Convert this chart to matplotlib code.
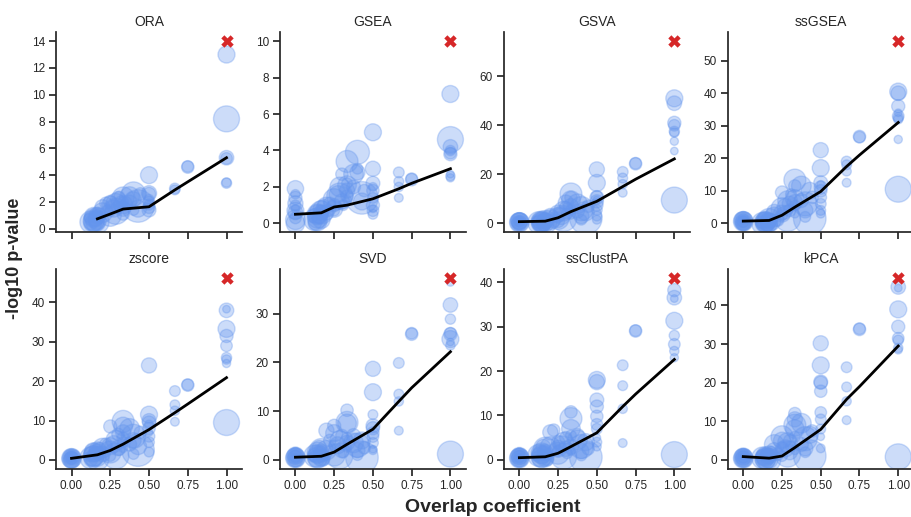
import numpy as np
import matplotlib
matplotlib.use('Agg')
import matplotlib.pyplot as plt

plt.rcParams['font.family'] = ['Liberation Sans', 'DejaVu Sans']
plt.rcParams['text.color'] = '.15'
plt.rcParams['axes.edgecolor'] = '.15'
plt.rcParams['xtick.color'] = '.15'
plt.rcParams['ytick.color'] = '.15'

nan = np.nan

# overlap coefficient of each gene set (shared by all methods)
overlap = ([0.0] * 11
           + [0.125, 0.143, 0.143, 0.167, 0.167, 0.154, 0.125, 0.182, 0.167, 0.111,
              0.143, 0.143, 0.167, 0.167]
           + [0.2, 0.2, 0.222, 0.25, 0.25, 0.25, 0.25]
           + [0.273, 0.286, 0.286, 0.3, 0.3, 0.308, 0.333, 0.333, 0.333, 0.333, 0.333, 0.333]
           + [0.375, 0.375, 0.4, 0.4, 0.429, 0.429, 0.444, 0.4]
           + [0.5] * 10
           + [0.667] * 4
           + [0.75] * 2
           + [1.0] * 9)

# bubble size ~ gene set size
set_size = ([180, 140, 110, 90, 70, 55, 45, 35, 200, 150, 120]
            + [250, 220, 180, 280, 140, 110, 90, 70, 55, 45, 220, 180, 160, 120]
            + [200, 120, 80, 250, 150, 90, 60]
            + [150, 350, 200, 120, 80, 60, 250, 180, 120, 80, 60, 40]
            + [200, 100, 300, 120, 550, 150, 80, 60]
            + [150, 120, 100, 90, 80, 70, 60, 50, 40, 30]
            + [60, 50, 45, 40]
            + [80, 70]
            + [350, 150, 110, 90, 70, 55, 45, 35, 30])

y_ora = ([nan] * 11
         + [0.5, 0.6, 0.9, 0.5, 1.0, 0.7, 0.4, 1.1, 1.2, 0.8, 0.5, 0.8, 0.6, 0.4]
         + [1.2, 1.6, 1.9, 1.0, 1.8, 2.0, 1.3]
         + [1.5, 1.3, 1.9, 2.2, 1.6, 2.4, 2.3, 1.8, 1.5, 1.1, 2.0, 1.7]
         + [2.4, 2.0, 2.6, 2.2, 1.7, 1.5, 2.6, 1.4]
         + [4.0, 2.65, 1.4, 2.6, 1.6, 2.0, 1.8, 2.2, nan, nan]
         + [3.0, 2.9, nan, nan]
         + [4.6, 4.65]
         + [8.2, 13.0, 5.3, nan, 5.25, 3.4, 3.45, nan, nan])

y_gsea = ([0.0, 1.9, 0.6, 1.4, 0.3, 1.0, 1.6, 0.8, 0.2, 0.7, 1.1]
          + [0.2, 0.5, 0.1, 0.6, 0.8, 0.4, 0.0, 1.0, 0.7, 0.3, 0.3, 0.5, 0.2, 0.6]
          + [0.9, 0.6, 1.1, 1.3, 0.8, 1.0, 0.7]
          + [1.6, 1.5, 2.0, 1.2, 2.7, 1.0, 3.4, 2.1, 1.8, 1.5, 2.2, 1.3]
          + [2.7, 2.0, 3.9, 2.8, 1.4, 1.2, 1.8, 3.0]
          + [5.0, 3.0, 2.2, 1.0, 1.8, 0.7, 1.4, 0.5, 2.0, 0.8]
          + [2.8, 2.3, 2.0, 1.4]
          + [2.4, 2.45]
          + [4.6, 7.1, 4.2, 3.8, 3.85, 4.0, 2.6, 2.5, 2.7])

y_gsva = ([0.5, 1.0, 0.2, 1.5, 0.0, 0.8, 0.3, 1.2, 0.4, 0.9, 0.1]
          + [0.3, 0.8, 0.1, 0.5, 1.2, 0.0, 0.6, 1.5, 0.2, 0.9, 0.4, 0.7, 0.2, 1.0]
          + [1.5, 3.0, 0.8, 2.0, 4.0, 1.0, 2.5]
          + [3.0, 2.0, 5.0, 8.5, 6.5, 4.0, 12.0, 9.5, 7.0, 10.5, 5.5, 3.5]
          + [8.0, 5.0, 6.0, 3.0, 2.2, 4.5, 7.0, 1.5]
          + [16.5, 22.0, 10.5, 9.0, 7.5, 11.0, 5.5, 3.0, 1.5, 9.5]
          + [21.0, 18.5, 16.0, 12.5]
          + [24.3, 24.5]
          + [9.5, 51.0, 49.0, 41.0, 40.0, 37.5, 37.0, 33.5, 29.5])

y_ssgsea = ([0.8, 0.3, 1.2, 0.0, 0.5, 1.5, 0.2, 1.0, 0.6, 1.0, 0.1]
            + [0.0, 0.5, 0.2, 1.0, 0.0, 0.8, 0.3, 1.2, 0.6, 0.1, 0.3, 0.6, 0.1, 0.9]
            + [2.0, 3.5, 1.0, 4.5, 3.0, 9.5, 2.5]
            + [5.0, 1.5, 7.0, 6.0, 4.0, 9.0, 13.3, 7.5, 6.5, 11.5, 5.5, 3.0]
            + [11.5, 7.0, 6.0, 4.0, 1.5, 10.0, 8.0, 2.0]
            + [17.0, 22.5, 12.5, 11.0, 10.0, 8.0, 6.0, 4.0, 3.0, 12.0]
            + [19.0, 18.0, 16.0, 12.5]
            + [26.7, 26.5]
            + [10.5, 40.5, 40.0, 36.0, 33.0, 32.5, 32.0, 25.8, 34.0])

y_zscore = ([0.3, 0.0, 0.8, 0.5, 1.0, 0.2, 0.6, 1.2, 0.4, 0.7, 0.1]
            + [0.5, 1.0, 2.0, 0.3, 2.5, 1.5, 0.0, 3.0, 1.2, 0.8, 1.0, 1.8, 0.6, 2.2]
            + [3.0, 1.5, 4.0, 2.0, 3.5, 8.5, 1.0]
            + [4.0, 1.0, 5.0, 3.0, 6.5, 2.5, 9.8, 8.5, 7.0, 5.5, 4.5, 3.0]
            + [8.0, 4.0, 6.0, 5.0, 2.5, 3.5, 7.0, 1.5]
            + [11.5, 24.0, 10.0, 9.5, 8.0, 6.0, 4.5, 2.0, 9.0, 7.0]
            + [17.5, 14.0, 12.5, 9.7]
            + [19.0, 19.1]
            + [9.5, 33.3, 38.0, 31.5, 29.0, 26.0, 25.5, 24.5, 38.3])

y_svd = ([0.5, 0.2, 1.0, 0.0, 0.8, 1.5, 0.3, 1.2, 0.4, 0.9, 0.6]
         + [0.8, 1.5, 0.2, 2.0, 0.5, 2.5, 1.0, 0.0, 1.8, 0.6, 0.6, 1.2, 0.4, 1.6]
         + [2.0, 6.0, 4.0, 1.0, 5.5, 7.0, 3.0]
         + [3.0, 0.8, 4.0, 2.0, 5.0, 1.5, 7.7, 7.5, 3.5, 10.2, 4.5, 2.5]
         + [3.5, 5.0, 3.0, 2.0, 0.5, 4.0, 2.5, 1.0]
         + [13.9, 18.7, 7.0, 6.5, 5.5, 4.8, 3.5, 9.3, 2.0, 2.2]
         + [19.9, 13.5, 12.0, 6.0]
         + [25.8, 26.0]
         + [1.2, 24.8, 31.8, 25.8, 26.0, 28.9, 23.5, 36.5, 24.2])

y_ssclustpa = ([0.5, 0.2, 1.0, 0.0, 0.8, 1.5, 0.3, 1.2, 0.4, 0.9, 0.6]
               + [1.0, 1.5, 0.3, 2.5, 0.6, 3.0, 1.2, 0.0, 2.0, 0.8, 0.7, 1.3, 0.4, 1.8]
               + [3.0, 6.2, 6.7, 1.5, 2.5, 4.0, 2.0]
               + [3.5, 0.8, 4.0, 2.5, 5.0, 1.5, 9.3, 7.0, 3.0, 10.8, 5.5, 2.0]
               + [4.5, 5.5, 3.0, 2.0, 0.6, 4.0, 2.5, 1.0]
               + [18.0, 17.5, 13.5, 12.0, 9.8, 8.0, 7.0, 4.0, 3.0, 5.0]
               + [21.3, 16.7, 11.5, 3.8]
               + [29.0, 29.1]
               + [1.2, 31.3, 36.5, 38.2, 26.0, 28.0, 24.5, 23.0, 36.3])

y_kpca = ([0.5, 0.2, 1.0, 0.0, 0.8, 1.5, 0.3, 1.2, 0.4, 0.9, 0.6]
          + [0.5, 0.2, 1.0, 0.0, 1.5, 0.8, 0.3, 2.0, 0.6, 1.2, 0.3, 0.7, 0.1, 1.0]
          + [4.0, 2.5, 1.5, 6.0, 5.0, 3.0, 1.0]
          + [3.0, 1.5, 4.5, 2.0, 5.0, 3.5, 9.0, 8.0, 10.5, 12.0, 6.0, 2.5]
          + [9.5, 4.0, 5.5, 3.0, 1.0, 6.5, 7.5, 2.0]
          + [24.5, 30.2, 20.2, 20.0, 17.8, 12.3, 10.5, 8.0, 3.0, 6.0]
          + [24.0, 18.9, 15.2, 10.3]
          + [33.8, 34.0]
          + [0.8, 39.0, 44.8, 34.5, 31.5, 31.0, 29.0, 28.5, 44.5])

# smoothed trend per method
trend_x = [0.0, 0.167, 0.25, 0.333, 0.5, 0.667, 0.75, 1.0]
trend_ora = [nan, 0.74, 1.1, 1.47, 1.64, 2.9, 3.5, 5.3]
trend_gsea = [0.5, 0.58, 0.9, 1.0, 1.35, 1.9, 2.2, 3.0]
trend_gsva = [0.7, 0.9, 2.3, 4.8, 9.0, 15.0, 18.0, 26.3]
trend_ssgsea = [0.7, 0.9, 2.5, 5.0, 9.8, 17.5, 21.0, 31.0]
trend_zscore = [0.4, 1.3, 2.4, 4.0, 7.7, 12.0, 14.2, 20.9]
trend_svd = [0.55, 0.75, 1.6, 3.2, 6.3, 12.0, 14.8, 22.2]
trend_ssclustpa = [0.5, 0.7, 1.5, 3.0, 6.1, 12.0, 14.8, 22.6]
trend_kpca = [0.86, 0.45, 1.0, 3.2, 7.9, 15.7, 19.0, 29.5]

# theoretical maximum (red cross at overlap = 1)
best_y = [14.0, 10.0, 74.3, 56.0, 46.3, 37.4, 41.0, 47.2]

methods = ['ORA', 'GSEA', 'GSVA', 'ssGSEA', 'zscore', 'SVD', 'ssClustPA', 'kPCA']
y_all = [y_ora, y_gsea, y_gsva, y_ssgsea, y_zscore, y_svd, y_ssclustpa, y_kpca]
trends = [trend_ora, trend_gsea, trend_gsva, trend_ssgsea,
          trend_zscore, trend_svd, trend_ssclustpa, trend_kpca]


def plot():
    fig, axes = plt.subplots(2, 4, figsize=(9.11, 5.17), dpi=100, sharex=True)
    fig.subplots_adjust(left=0.0615, right=1.003, top=0.938, bottom=0.0928,
                        wspace=0.204, hspace=0.18)

    for ax, name, ys, tr, best in zip(axes.flat, methods, y_all, trends, best_y):
        ax.scatter(overlap, ys, s=set_size, color='cornflowerblue', alpha=0.33,
                   edgecolor='cornflowerblue', linewidth=1.0, zorder=2)
        ax.plot(trend_x, tr, color='black', linewidth=2, zorder=3)
        ax.scatter([1.0], [best], marker='X', s=80, color='#d62728',
                   linewidth=0, zorder=4)
        ax.set_title(name, fontsize=10, pad=4)
        ax.set_xlim(-0.1, 1.1)
        ax.set_xticks([0, 0.25, 0.5, 0.75, 1.0])
        ax.xaxis.set_major_formatter(matplotlib.ticker.FormatStrFormatter('%.2f'))
        ax.spines['top'].set_visible(False)
        ax.spines['right'].set_visible(False)
        for sp in ('left', 'bottom'):
            ax.spines[sp].set_linewidth(1.25)
        ax.tick_params(labelsize=8.5, length=5, width=1.25, pad=3)

    fig.text(0.016, 0.5, '-log10 p-value', rotation=90, va='center', ha='center',
             fontsize=13, fontweight='bold')
    fig.text(0.541, 0.002, 'Overlap coefficient', va='bottom', ha='center',
             fontsize=14, fontweight='bold')
    fig.savefig('out.png', dpi=100)


if __name__ == '__main__':
    plot()
